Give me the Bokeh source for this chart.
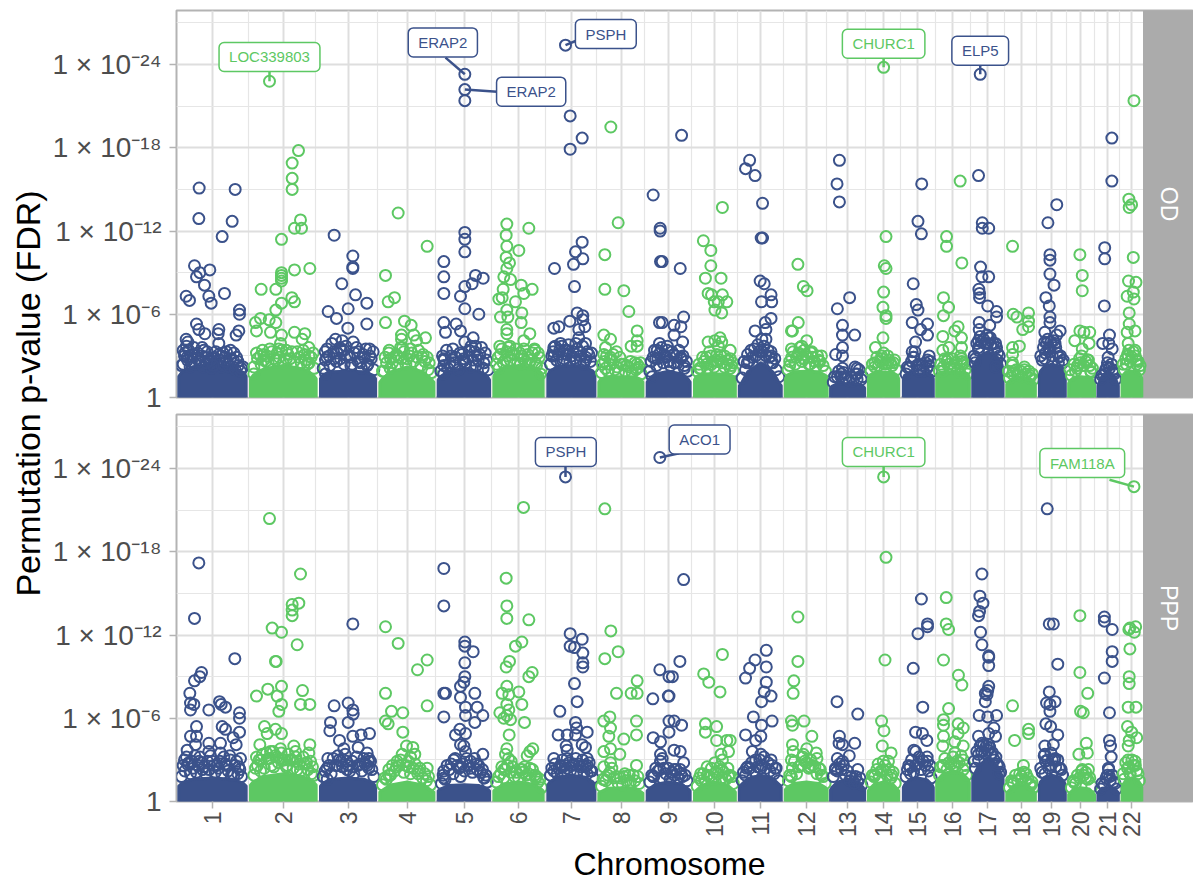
from math import pi
from bokeh.plotting import figure
from bokeh.layouts import row, column
from bokeh.models import Range1d, FixedTicker, Label
from bokeh.embed import file_html
from bokeh.resources import INLINE

NAVY = "#3B528B"
GREEN = "#5DC863"
chrom_labels = [str(i) for i in range(1, 23)]
chrom_ticks = [109,320,515,692,863,1027,1184,1334,1476,1612,1747,1881,2001,2108,2209,2311,2414,2512,2602,2688,2767,2838]
mass_start = [7,222,432,610,785,952,1114,1267,1412,1552,1684,1819,1952,2063,2166,2264,2370,2470,2566,2652,2738,2809]
mass_end = [209,419,597,772,939,1100,1255,1399,1539,1672,1807,1942,2052,2152,2254,2360,2459,2554,2642,2728,2798,2867]
od_mass_edge = [1.8,1.6,1.6,1.3,1.5,1.8,1.9,1.3,1.3,1.5,1.0,1.6,0.8,1.6,1.6,1.7,2.4,1.1,1.9,1.2,1.0,1.6]
od_mass_peak = [2.4,2.3,1.9,2.2,2.1,2.3,2.3,1.5,1.9,1.7,2.5,1.9,1.0,1.8,1.7,1.8,3.3,1.4,2.4,1.5,1.9,1.9]
ppp_mass_edge = [1.3,1.4,1.3,0.8,0.9,0.9,1.4,0.7,0.9,0.8,1.2,1.0,1.0,0.9,1.2,1.6,1.9,0.7,1.4,0.6,0.7,1.2]
ppp_mass_peak = [1.7,2.0,1.7,1.4,1.2,1.4,1.9,1.0,1.4,1.4,1.9,1.4,1.6,1.4,1.7,2.2,3.1,1.2,1.9,1.0,1.0,1.7]

od_points = [
 [(68,15.1),(176,15.0),(67,12.9),(167,12.7),(137,11.6),(54,9.5),(100,9.2),(70,9.0),(60,8.7),(84,8.1),(144,7.5),(97,7.3),(29,7.3),(39,7.0),(104,6.8),(189,6.3),(189,6.0),(60,5.3),(127,4.9),(67,4.9),(85,4.6),(187,4.8),(179,4.5),(29,4.2),(34,4.0),(125,4.6),(127,3.9),(77,3.6),(162,3.4),(82,3.4),(37,3.4),(127,3.1),(32,2.9),(102,2.7),(162,2.8),(62,2.8),(20,2.4),(45,2.6),(90,2.5),(145,2.6),(185,2.3),(195,2.1),(110,2.3),(25,3.2),(140,3.2)],
 [(279,22.8),(366,17.8),(347,16.9),(347,15.8),(347,15.0),(372,12.8),(354,12.2),(375,12.2),(315,11.4),(315,9.0),(315,8.8),(315,8.6),(315,8.4),(354,9.2),(400,9.3),(254,7.8),(298,7.8),(346,7.2),(354,6.9),(315,6.8),(298,6.3),(252,5.7),(237,5.4),(278,5.6),(298,5.4),(240,4.8),(282,4.7),(354,4.7),(385,4.6),(315,4.5),(377,4.2),(312,3.9),(397,3.6),(307,3.5),(252,3.0),(272,3.0),(397,3.0),(330,2.8),(292,2.8),(262,2.7),(387,2.7),(232,1.7)],
 [(473,11.7),(529,10.2),(529,9.3),(529,9.4),(496,8.2),(537,7.4),(571,6.8),(515,6.4),(455,6.2),(480,5.7),(571,5.3),(514,5.0),(477,4.2),(497,4.1),(530,4.0),(452,3.5),(579,3.5),(502,3.4),(547,3.3),(447,2.7),(472,2.8),(527,2.4),(572,2.3),(447,1.7),(552,2.5),(492,2.8)],
 [(665,13.3),(752,10.9),(627,8.8),(654,7.2),(635,6.9),(627,5.4),(684,5.5),(704,5.2),(675,4.5),(675,4.2),(712,4.5),(747,4.3),(720,4.1),(672,3.6),(702,3.5),(637,3.2),(682,3.3),(752,2.9),(737,2.9),(642,2.8),(622,1.9),(667,2.9)],
 [(865,23.3),(865,22.2),(865,21.4),(865,11.9),(865,11.4),(865,10.5),(802,9.8),(802,8.7),(897,8.8),(920,8.6),(887,8.2),(865,8.0),(802,7.5),(852,7.3),(865,6.4),(907,6.0),(802,5.4),(839,5.3),(807,4.7),(852,4.8),(890,4.3),(865,4.0),(897,3.7),(829,3.5),(902,3.0),(802,2.8),(862,2.8),(802,2.3),(922,2.5),(832,2.5),(882,2.2),(802,1.7)],
 [(991,12.5),(989,11.7),(1057,12.2),(991,10.9),(1027,10.6),(989,10.1),(999,9.7),(991,9.3),(982,8.7),(1002,8.5),(1034,8.1),(1067,7.8),(980,7.8),(1042,7.5),(977,7.2),(967,7.1),(1017,6.9),(991,6.3),(1036,6.1),(972,5.8),(994,5.8),(1034,5.4),(991,4.9),(991,4.6),(1060,4.6),(1042,4.1),(970,3.7),(1000,3.7),(1042,3.5),(1074,3.5),(992,3.0),(1077,2.5),(1032,2.4),(1092,1.7),(967,2.1)],
 [(1167,25.4),(1181,20.3),(1217,18.7),(1181,17.9),(1217,11.2),(1197,10.5),(1219,10.0),(1191,9.6),(1134,9.3),(1194,8.0),(1202,6.1),(1219,5.9),(1180,5.5),(1219,5.6),(1147,5.1),(1132,5.0),(1225,5.1),(1207,4.9),(1207,4.3),(1152,3.9),(1227,3.9),(1132,3.6),(1172,3.4),(1202,3.5),(1237,3.1),(1132,3.0),(1162,2.8),(1192,2.8),(1227,2.7)],
 [(1303,19.5),(1325,12.6),(1285,10.3),(1285,7.8),(1342,7.7),(1357,6.2),(1282,4.5),(1302,4.2),(1382,4.8),(1382,4.1),(1364,3.7),(1382,3.7),(1287,3.6),(1320,3.3),(1282,3.1),(1302,2.9),(1342,2.4),(1382,2.4),(1382,2.1),(1287,2.1),(1322,2.2)],
 [(1430,14.6),(1451,12.2),(1451,12.0),(1452,9.8),(1449,5.4),(1449,3.9),(1442,3.4),(1437,2.8),(1472,3.4),(1427,1.5),(1514,18.9),(1510,9.3),(1457,9.8),(1520,5.8),(1492,5.2),(1512,5.1),(1492,4.5),(1457,5.4),(1517,4.0),(1472,3.7),(1512,2.9),(1492,2.5),(1462,3.1),(1522,2.1)],
 [(1634,13.7),(1578,11.3),(1600,10.6),(1600,9.5),(1630,8.6),(1584,8.6),(1592,7.5),(1602,7.4),(1634,7.4),(1647,6.9),(1622,6.9),(1610,6.9),(1612,6.3),(1632,6.1),(1592,4.0),(1627,4.3),(1612,4.1),(1632,4.0),(1622,3.7),(1657,3.4),(1587,2.9),(1632,2.5),(1657,2.8),(1567,2.1),(1657,2.1),(1602,2.4)],
 [(1714,17.1),(1702,16.5),(1730,16.0),(1752,14.0),(1748,11.5),(1752,11.5),(1745,8.4),(1757,8.2),(1777,7.4),(1749,6.9),(1779,6.9),(1777,5.7),(1760,5.4),(1762,4.9),(1730,4.8),(1750,4.2),(1762,4.2),(1777,3.3),(1747,3.4),(1707,2.5),(1747,2.8),(1777,2.5)],
 [(1856,9.6),(1872,8.0),(1883,7.7),(1857,5.4),(1837,4.8),(1840,4.8),(1882,4.1),(1867,3.7),(1837,3.5),(1897,3.3),(1857,3.1),(1917,2.7),(1832,2.3),(1892,2.4),(1872,2.8)],
 [(1978,17.1),(1971,15.4),(1978,14.1),(2008,7.2),(1972,6.4),(1987,5.2),(1987,4.5),(2023,4.5),(1987,3.6),(1967,3.1),(1987,3.0),(1987,2.1),(2024,2.2),(2030,2.1),(1982,1.5),(2030,1.3)],
 [(2108,23.8),(2115,11.6),(2110,9.5),(2115,9.3),(2108,7.6),(2106,6.5),(2115,5.9),(2115,5.7),(2106,4.3),(2084,3.6),(2102,3.0),(2137,2.5),(2082,2.2),(2117,2.5)],
 [(2220,15.4),(2209,12.7),(2219,11.8),(2195,8.2),(2204,6.7),(2209,6.3),(2192,5.4),(2237,5.3),(2217,4.9),(2237,4.5),(2202,4.0),(2192,3.3),(2197,2.9),(2237,2.7),(2242,2.3),(2182,2.1),(2212,1.9)],
 [(2333,15.6),(2293,11.6),(2293,10.9),(2338,9.7),(2284,7.2),(2299,6.5),(2284,5.9),(2327,5.1),(2317,4.8),(2337,4.3),(2282,4.4),(2337,3.6),(2300,3.6),(2282,3.4),(2297,2.8),(2337,2.8),(2337,2.4),(2282,1.9),(2332,1.8)],
 [(2392,23.3),(2387,16.0),(2398,12.6),(2398,12.2),(2417,12.2),(2393,9.4),(2397,8.7),(2417,8.7),(2388,7.8),(2390,7.5),(2390,7.2),(2414,6.6),(2440,6.2),(2440,5.8),(2389,5.4),(2420,5.2),(2389,4.9),(2417,4.3),(2437,3.9),(2387,4.1),(2387,3.4),(2442,2.7),(2437,2.2),(2377,2.5)],
 [(2487,10.9),(2489,6.0),(2500,5.8),(2534,6.1),(2534,5.5),(2517,4.9),(2534,5.1),(2507,3.7),(2487,3.6),(2487,3.1),(2487,2.5),(2522,2.2),(2487,1.7),(2537,1.6)],
 [(2617,13.9),(2591,12.6),(2597,10.3),(2597,9.9),(2597,8.9),(2609,8.1),(2585,7.2),(2595,6.6),(2597,5.8),(2597,5.4),(2627,4.8),(2582,4.7),(2617,4.5),(2582,4.0),(2612,3.9),(2597,3.5),(2582,2.8),(2622,2.5)],
 [(2685,10.3),(2692,8.8),(2692,7.7),(2685,4.8),(2714,4.7),(2697,4.7),(2670,4.1),(2712,3.9),(2692,3.5),(2710,2.7),(2687,2.5),(2677,2.1),(2717,1.9)],
 [(2779,18.7),(2779,15.6),(2758,10.8),(2758,10.0),(2757,6.6),(2772,4.5),(2752,3.9),(2770,3.9),(2780,3.5),(2765,2.2),(2782,1.8)],
 [(2844,21.4),(2829,14.3),(2837,13.9),(2830,13.7),(2842,10.1),(2828,8.4),(2850,8.3),(2842,7.6),(2824,7.3),(2844,7.1),(2830,6.1),(2830,5.3),(2824,4.7),(2847,4.8),(2827,3.9),(2847,3.4),(2827,3.0),(2852,2.7),(2822,2.4)],
]

od_dense = [
 [(15,2.3),(24,3.0),(33,2.7),(41,2.2),(48,3.1),(56,2.4),(64,3.2),(72,2.6),(80,2.2),(88,2.9),(96,2.6),(105,2.1),(113,2.9),(120,2.4),(129,2.7),(136,2.2),(146,2.9),(153,2.4),(160,2.2),(170,2.7),(176,2.0),(184,2.6),(192,1.9),(200,2.2),(20,3.4),(30,3.7),(42,3.0),(52,3.6),(68,2.6),(76,3.0),(92,3.3),(110,2.8),(118,3.3),(134,3.0),(150,3.3),(172,3.2),(180,2.9)],
 [(232,2.2),(243,2.8),(254,2.4),(262,3.1),(275,2.5),(286,3.3),(297,2.7),(308,2.9),(320,2.5),(329,3.4),(341,2.8),(352,2.6),(362,3.3),(374,2.5),(384,3.1),(393,2.4),(404,2.9),(413,2.1),(240,3.2),(258,3.4),(268,2.6),(280,3.5),(302,3.2),(316,3.4),(335,3.1),(346,3.3),(368,2.9),(380,3.4),(398,2.5),(410,3.2)],
 [(440,2.1),(451,2.9),(460,2.3),(471,3.3),(480,2.6),(490,3.6),(503,2.4),(512,3.0),(523,2.3),(534,3.2),(545,2.6),(555,2.1),(563,2.9),(574,2.4),(584,2.8),(592,2.0),(446,3.3),(458,3.0),(466,3.9),(482,3.2),(495,3.4),(508,3.7),(520,2.9),(540,3.6),(560,3.1),(568,3.5),(580,3.0),(590,3.3)],
 [(618,1.9),(630,2.5),(641,2.1),(652,2.9),(663,2.3),(675,2.8),(688,2.4),(699,3.0),(711,2.6),(722,2.9),(733,2.3),(745,2.6),(755,2.0),(765,1.8),(626,2.9),(638,3.4),(648,2.5),(660,3.1),(678,3.6),(692,2.8),(706,3.2),(726,3.4),(740,3.1),(758,2.5)],
 [(793,1.9),(803,2.7),(814,2.1),(824,3.0),(835,2.3),(846,2.0),(857,3.1),(868,2.5),(878,3.4),(889,2.7),(899,2.3),(910,3.1),(920,2.1),(930,2.7),(935,2.0),(798,3.0),(810,3.4),(820,2.5),(838,2.9),(850,3.2),(860,2.6),(875,2.9),(884,3.7),(895,3.3),(905,2.7),(915,3.6),(926,3.2)],
 [(960,2.4),(972,3.1),(980,2.5),(990,3.3),(1001,2.7),(1012,3.1),(1023,2.5),(1035,3.0),(1047,2.6),(1058,2.4),(1068,3.2),(1080,2.3),(1088,2.9),(1095,2.1),(965,2.9),(976,3.5),(986,2.7),(996,3.6),(1006,3.2),(1018,3.5),(1030,3.2),(1040,2.8),(1054,3.1),(1064,2.7),(1075,3.4),(1085,3.2)],
 [(1122,2.4),(1130,3.3),(1140,2.7),(1150,3.4),(1160,2.6),(1170,3.1),(1180,2.6),(1190,3.3),(1200,2.7),(1212,3.0),(1222,2.4),(1232,3.3),(1242,2.6),(1250,2.2),(1126,3.0),(1136,3.7),(1146,3.1),(1156,3.7),(1166,3.4),(1176,3.8),(1186,3.0),(1198,3.9),(1208,3.3),(1218,3.7),(1228,2.9),(1245,3.2)],
 [(1275,1.8),(1285,2.6),(1295,1.9),(1305,2.7),(1315,2.0),(1326,1.8),(1335,2.4),(1346,1.9),(1357,2.2),(1367,1.8),(1378,2.0),(1388,2.2),(1394,1.7),(1278,2.4),(1290,3.0),(1300,2.4),(1310,3.1),(1330,2.9),(1350,2.3),(1362,2.6),(1375,2.5),(1392,2.5)],
 [(1420,1.9),(1430,2.9),(1440,2.3),(1450,3.2),(1460,2.5),(1470,2.9),(1481,2.3),(1491,3.1),(1502,2.5),(1512,2.8),(1522,2.3),(1532,1.9),(1424,2.6),(1434,3.4),(1444,2.8),(1455,3.6),(1466,3.0),(1476,2.6),(1486,3.3),(1498,3.0),(1506,3.4),(1518,3.0),(1528,2.6)],
 [(1560,1.9),(1570,2.1),(1580,2.6),(1590,2.1),(1600,3.0),(1610,2.2),(1620,2.6),(1630,3.0),(1640,2.2),(1650,2.7),(1660,2.3),(1667,1.9),(1565,2.4),(1576,2.9),(1588,2.4),(1596,3.3),(1606,2.6),(1618,3.1),(1626,2.7),(1640,3.0),(1648,2.4),(1664,2.5)],
 [(1692,1.4),(1702,2.0),(1712,2.6),(1722,2.9),(1732,3.0),(1742,3.3),(1752,3.3),(1762,3.0),(1772,2.9),(1782,2.5),(1792,2.0),(1800,1.5),(1698,2.6),(1708,3.1),(1718,3.4),(1728,3.5),(1738,3.8),(1756,3.7),(1768,3.4),(1778,3.0),(1788,2.8)],
 [(1827,2.0),(1838,2.9),(1848,2.4),(1858,3.2),(1868,2.6),(1878,3.1),(1888,2.4),(1898,2.9),(1908,2.2),(1920,2.6),(1930,2.3),(1937,1.9),(1832,2.6),(1842,3.3),(1852,2.9),(1862,3.6),(1874,3.4),(1885,2.9),(1895,3.2),(1905,2.6),(1914,3.0),(1925,3.0)],
 [(1960,1.1),(1972,1.5),(1984,1.7),(1995,1.4),(2006,1.2),(2018,1.2),(2030,1.7),(2042,1.3),(1964,1.5),(1976,1.9),(1990,1.8),(2012,1.5),(2026,1.7),(2036,2.0),(2046,1.5)],
 [(2071,1.9),(2082,2.5),(2093,2.3),(2103,2.8),(2113,2.4),(2123,2.7),(2133,2.3),(2145,2.0),(2075,2.4),(2088,2.9),(2098,2.6),(2108,3.2),(2120,3.0),(2128,2.5),(2140,2.7)],
 [(2174,1.7),(2185,2.2),(2195,2.9),(2205,2.3),(2215,2.0),(2225,1.9),(2235,2.1),(2245,2.6),(2250,1.9),(2178,2.2),(2190,2.6),(2200,3.3),(2212,2.4),(2222,2.3),(2232,2.5),(2242,3.0)],
 [(2272,1.9),(2283,2.2),(2294,2.6),(2305,2.1),(2316,2.3),(2327,2.0),(2338,2.6),(2348,2.0),(2355,1.7),(2276,2.4),(2288,2.8),(2300,2.4),(2310,2.8),(2322,2.5),(2334,3.0),(2344,2.5)],
 [(2378,2.8),(2387,3.6),(2396,4.0),(2405,3.9),(2414,3.9),(2423,3.8),(2433,3.5),(2443,3.2),(2452,2.4),(2374,3.0),(2382,3.9),(2392,4.4),(2402,4.2),(2412,4.5),(2422,4.3),(2430,3.9),(2440,3.6),(2448,3.0)],
 [(2478,1.4),(2490,1.9),(2502,1.6),(2514,1.5),(2526,1.7),(2538,1.4),(2548,1.3),(2475,1.9),(2486,2.3),(2498,2.0),(2510,1.9),(2522,2.0),(2535,1.9),(2545,1.7)],
 [(2574,2.7),(2584,3.2),(2594,3.6),(2604,3.0),(2614,3.6),(2624,2.9),(2634,2.5),(2600,4.0),(2590,4.2),(2570,3.0),(2578,3.6),(2588,3.9),(2598,3.3),(2608,4.1),(2618,3.2),(2628,3.0),(2636,2.7)],
 [(2660,1.6),(2672,1.9),(2684,2.8),(2696,2.3),(2708,2.7),(2718,1.8),(2656,2.0),(2668,2.4),(2678,2.3),(2690,3.0),(2702,2.6),(2714,2.3),(2722,2.1)],
 [(2746,1.3),(2756,1.6),(2766,2.5),(2772,2.1),(2782,2.0),(2790,1.3),(2750,1.6),(2760,2.0),(2768,2.9),(2778,2.4),(2786,1.7)],
 [(2815,2.0),(2825,3.1),(2833,2.6),(2842,3.3),(2852,2.4),(2860,2.0),(2812,2.4),(2820,2.8),(2829,3.4),(2838,2.9),(2848,3.0),(2856,2.6),(2862,2.3)],
]

ppp_points = [
 [(67,17.2),(54,13.2),(175,10.3),(75,9.3),(70,9.0),(54,8.7),(40,7.8),(42,7.1),(52,7.0),(42,6.6),(129,7.2),(134,7.0),(147,6.8),(97,6.6),(189,6.4),(189,6.0),(60,5.4),(137,5.4),(147,5.2),(189,5.0),(42,4.7),(60,4.7),(170,4.6),(132,4.2),(97,4.2),(179,4.1),(57,4.1),(32,3.7),(97,3.6),(70,3.2),(132,3.5),(24,3.0),(192,3.1),(162,3.0),(82,2.5),(187,2.5),(122,2.6),(37,2.8),(172,1.9)],
 [(279,20.4),(372,16.4),(367,14.3),(347,14.2),(347,13.8),(347,13.4),(287,12.5),(315,12.2),(362,11.3),(297,10.1),(299,10.1),(315,8.3),(274,8.1),(378,8.0),(240,7.6),(302,7.6),(315,7.0),(372,7.0),(400,7.0),(307,6.5),(264,5.4),(297,5.2),(272,4.9),(315,4.9),(250,4.1),(400,4.1),(352,4.0),(312,3.8),(240,3.2),(282,3.6),(397,3.5),(357,3.6),(402,2.9),(252,2.2),(332,2.6),(292,2.5),(362,2.3)],
 [(529,12.8),(473,6.9),(515,7.1),(529,6.6),(530,6.3),(462,5.7),(515,5.7),(460,5.1),(579,4.9),(554,4.8),(529,4.7),(489,4.4),(545,3.9),(502,3.8),(572,3.5),(577,3.1),(454,3.1),(527,2.9),(482,2.6),(577,2.4),(512,2.3),(452,1.6)],
 [(627,12.6),(665,11.4),(752,10.2),(723,9.5),(627,7.8),(752,6.9),(645,6.5),(679,6.4),(627,5.8),(635,5.6),(679,5.0),(690,4.0),(709,3.9),(715,3.4),(677,3.4),(662,2.9),(752,2.4),(697,2.5),(637,1.9),(727,2.2),(702,2.0)],
 [(802,16.8),(802,14.1),(865,11.5),(865,11.2),(890,10.8),(865,10.0),(865,9.0),(862,8.6),(852,8.3),(802,7.8),(807,7.8),(895,7.8),(852,7.5),(867,6.8),(902,6.8),(867,6.2),(919,6.2),(802,6.1),(895,5.7),(850,5.2),(867,4.9),(837,4.8),(852,4.1),(862,4.0),(867,3.6),(919,3.4),(832,3.0),(882,2.9),(802,2.2),(852,2.5),(902,2.3),(802,1.7),(922,1.7)],
 [(1041,21.2),(989,16.1),(991,14.1),(991,13.2),(1057,13.1),(1036,11.5),(1017,11.2),(999,10.1),(989,9.7),(1067,9.3),(1057,9.0),(991,8.3),(1027,7.9),(977,7.8),(997,7.7),(991,7.0),(1036,7.0),(997,6.6),(970,6.4),(991,6.2),(982,6.0),(1002,5.9),(1044,5.7),(998,4.8),(991,3.8),(1069,3.8),(1060,3.6),(1052,3.3),(987,3.4),(1004,2.9),(1060,2.4),(1037,2.3),(1077,1.7),(982,2.3)],
 [(1167,23.4),(1181,12.1),(1217,11.7),(1181,11.2),(1194,11.1),(1219,10.7),(1219,10.0),(1219,9.7),(1194,8.5),(1202,7.2),(1150,6.5),(1197,5.7),(1200,5.3),(1145,4.8),(1172,4.8),(1197,4.8),(1232,5.0),(1217,4.1),(1169,4.0),(1227,3.9),(1172,3.7),(1232,3.1),(1132,3.1),(1172,3.1),(1157,2.5),(1217,2.6),(1232,2.0)],
 [(1285,21.1),(1303,12.3),(1325,10.8),(1285,10.3),(1382,8.7),(1320,7.8),(1364,7.8),(1382,7.8),(1300,6.1),(1282,5.8),(1380,5.8),(1302,5.3),(1297,4.7),(1380,4.8),(1342,4.5),(1302,3.8),(1282,3.6),(1330,3.4),(1302,2.8),(1282,2.5),(1380,2.6),(1342,1.8),(1282,1.6)],
 [(1450,24.8),(1450,9.5),(1477,9.0),(1429,7.4),(1475,7.6),(1430,4.6),(1452,4.3),(1452,3.4),(1452,2.9),(1477,5.0),(1430,1.8),(1477,5.8),(1520,16.0),(1509,10.1),(1487,9.0),(1477,7.6),(1492,5.8),(1514,5.5),(1492,3.7),(1510,3.6),(1520,2.8),(1457,3.1),(1492,2.3),(1512,2.0)],
 [(1634,10.6),(1579,9.2),(1594,8.6),(1627,7.9),(1584,5.6),(1617,5.4),(1584,5.0),(1617,4.4),(1647,4.4),(1657,4.4),(1652,3.6),(1630,3.4),(1634,3.0),(1612,2.8),(1589,2.5),(1570,2.0),(1652,1.8),(1632,2.3)],
 [(1763,10.9),(1730,10.2),(1714,9.6),(1763,9.7),(1702,8.9),(1763,8.6),(1757,7.9),(1777,7.6),(1749,7.2),(1725,6.1),(1780,5.8),(1749,5.5),(1702,4.8),(1747,4.7),(1732,4.4),(1722,3.6),(1747,3.4),(1777,3.0),(1705,2.4),(1789,2.4),(1747,2.4)],
 [(1856,13.3),(1856,10.1),(1844,8.7),(1842,7.8),(1874,5.8),(1837,5.8),(1840,5.5),(1897,4.7),(1840,4.1),(1882,3.8),(1842,3.6),(1910,3.5),(1872,3.4),(1837,3.0),(1912,3.1),(1922,2.3),(1892,2.5),(1837,1.8)],
 [(1971,7.2),(2032,6.3),(1978,4.7),(1977,4.2),(1987,4.1),(2023,4.2),(2007,3.3),(1972,3.1),(1987,2.9),(1967,2.4),(2032,2.3),(2022,1.3)],
 [(2108,23.4),(2115,17.6),(2112,10.2),(2102,5.8),(2109,5.1),(2104,4.0),(2130,3.5),(2122,2.9),(2107,2.9),(2092,2.7),(2132,1.9),(2080,1.8)],
 [(2219,14.6),(2237,12.8),(2237,12.6),(2209,12.1),(2195,9.6),(2223,6.8),(2202,5.0),(2222,4.9),(2235,4.4),(2197,3.7),(2202,3.6),(2182,2.6),(2237,2.9),(2202,2.6),(2187,2.0)],
 [(2292,14.7),(2292,12.8),(2299,12.4),(2284,10.2),(2328,9.1),(2338,8.4),(2299,6.7),(2284,5.9),(2284,5.5),(2327,5.6),(2342,5.3),(2284,4.7),(2327,4.9),(2317,4.3),(2342,4.0),(2282,4.0),(2317,3.5),(2342,3.0),(2282,2.6),(2317,2.6)],
 [(2397,16.4),(2391,14.8),(2400,14.3),(2390,13.7),(2387,13.4),(2393,12.2),(2397,11.3),(2417,10.5),(2417,10.4),(2417,9.8),(2417,8.3),(2414,8.0),(2407,7.8),(2412,7.7),(2407,7.2),(2389,6.2),(2414,6.1),(2440,6.2),(2432,5.3),(2417,4.9),(2387,4.7),(2437,4.7),(2397,4.2),(2417,4.1),(2387,3.0),(2447,2.0),(2442,2.6)],
 [(2487,6.9),(2534,5.2),(2534,4.9),(2493,4.4),(2519,2.6),(2527,2.0),(2487,1.4),(2542,1.2),(2512,1.6)],
 [(2589,21.1),(2595,12.8),(2607,12.8),(2595,7.9),(2587,7.1),(2612,7.2),(2597,7.0),(2597,6.5),(2585,5.6),(2599,5.4),(2620,4.8),(2620,9.9),(2582,4.0),(2607,4.1),(2582,3.4),(2612,3.1),(2582,2.0),(2627,2.4),(2597,2.6)],
 [(2685,13.4),(2685,9.3),(2708,7.8),(2687,6.5),(2695,6.4),(2704,4.2),(2682,3.4),(2707,3.5),(2692,2.3),(2710,2.3),(2667,1.4),(2702,1.7)],
 [(2757,13.3),(2757,13.0),(2780,12.4),(2780,10.8),(2780,10.1),(2757,8.9),(2772,6.4),(2772,4.4),(2775,4.0),(2777,3.2),(2769,2.4),(2772,1.8)],
 [(2844,22.7),(2832,12.5),(2849,12.6),(2829,12.4),(2845,12.2),(2832,11.0),(2830,9.0),(2830,8.5),(2827,6.8),(2850,6.8),(2825,5.4),(2837,5.0),(2852,4.6),(2830,4.4),(2827,4.0),(2827,3.0),(2847,2.9),(2832,2.0)],
]

ppp_dense = [
 [(15,1.8),(25,2.2),(33,2.7),(42,2.0),(50,2.4),(60,2.1),(68,2.9),(78,2.3),(88,2.0),(98,2.3),(107,2.9),(116,2.1),(126,2.4),(136,2.0),(146,2.7),(155,2.2),(165,1.9),(175,2.6),(184,2.0),(195,1.8),(20,2.6),(30,3.2),(46,2.9),(55,3.3),(65,2.6),(75,2.8),(93,2.9),(102,3.3),(112,2.6),(130,2.9),(142,3.2),(150,2.6),(160,3.3),(180,2.9),(190,2.3)],
 [(232,1.9),(243,2.6),(254,3.0),(263,2.4),(275,3.1),(285,2.6),(296,3.3),(306,2.8),(318,3.0),(329,2.5),(340,3.0),(350,2.4),(362,2.9),(372,2.2),(384,2.7),(394,2.3),(405,2.0),(413,1.9),(237,2.4),(248,3.0),(258,3.4),(270,3.5),(280,3.1),(290,3.6),(302,3.2),(314,3.5),(324,3.0),(335,3.4),(346,3.0),(358,3.2),(368,2.7),(380,3.2),(390,2.8),(408,2.5)],
 [(440,1.8),(452,2.4),(464,2.0),(476,2.6),(488,3.0),(498,2.5),(510,2.9),(520,2.2),(532,2.0),(544,2.6),(556,2.2),(566,2.7),(576,2.9),(586,2.3),(592,1.8),(446,2.2),(458,2.6),(470,3.1),(484,3.3),(494,2.9),(506,3.4),(516,2.6),(528,2.5),(540,3.2),(552,2.7),(562,3.1),(572,2.6),(582,2.9)],
 [(618,1.2),(630,1.6),(642,1.9),(654,2.2),(668,2.6),(682,2.1),(696,2.9),(710,2.4),(724,2.0),(738,1.7),(750,1.5),(762,1.2),(625,1.7),(637,2.3),(648,2.6),(660,2.5),(672,3.0),(688,2.6),(702,3.2),(716,2.7),(730,2.4),(745,2.0),(756,1.8)],
 [(795,1.3),(806,1.6),(818,2.3),(830,2.0),(842,2.6),(852,1.8),(864,2.2),(876,2.6),(888,2.1),(900,2.7),(912,2.1),(924,1.7),(932,1.4),(800,1.9),(812,2.6),(824,2.7),(836,3.1),(848,2.4),(858,2.7),(870,3.1),(882,2.4),(894,3.1),(906,2.6),(918,2.3),(928,1.9)],
 [(960,1.4),(972,2.0),(982,1.7),(993,2.6),(1003,2.1),(1014,1.8),(1026,1.7),(1038,2.1),(1050,1.9),(1062,1.5),(1075,1.9),(1085,1.4),(1095,1.0),(966,1.8),(976,2.5),(986,2.3),(996,3.1),(1008,2.5),(1020,2.1),(1032,2.3),(1044,2.5),(1056,2.0),(1068,2.3),(1080,1.8),(1090,1.6)],
 [(1122,1.9),(1132,2.2),(1142,2.0),(1152,2.6),(1162,2.1),(1172,2.4),(1182,2.2),(1192,2.7),(1202,2.2),(1212,2.5),(1222,2.1),(1232,2.6),(1242,2.2),(1250,1.7),(1126,2.4),(1136,2.7),(1148,2.4),(1158,3.0),(1166,2.6),(1178,2.8),(1188,2.6),(1198,3.1),(1208,2.7),(1218,3.0),(1228,2.5),(1238,2.8),(1246,2.2)],
 [(1275,1.1),(1288,1.5),(1300,2.1),(1312,1.7),(1325,1.3),(1338,1.2),(1350,1.5),(1362,1.4),(1375,1.5),(1388,1.3),(1280,1.6),(1294,1.9),(1306,2.4),(1320,1.8),(1332,1.7),(1345,2.0),(1358,1.9),(1370,1.9),(1384,1.8)],
 [(1420,1.4),(1432,1.8),(1444,2.2),(1456,1.7),(1468,2.0),(1480,1.6),(1492,1.9),(1504,1.7),(1516,1.8),(1530,1.5),(1426,1.9),(1438,2.4),(1450,2.3),(1462,2.4),(1474,2.4),(1486,2.1),(1498,2.3),(1510,2.3),(1524,1.9)],
 [(1560,1.1),(1572,1.5),(1584,1.4),(1596,1.8),(1608,1.6),(1620,2.0),(1632,1.7),(1644,1.6),(1655,1.9),(1666,1.3),(1566,1.7),(1578,2.0),(1590,1.9),(1602,2.4),(1614,2.1),(1626,2.5),(1638,2.1),(1650,2.4),(1662,1.8)],
 [(1692,1.5),(1702,1.9),(1714,2.4),(1726,2.2),(1738,2.5),(1750,2.6),(1762,2.4),(1774,2.2),(1786,2.0),(1800,1.5),(1696,2.1),(1708,2.5),(1720,2.8),(1732,3.0),(1744,3.0),(1756,3.2),(1768,2.8),(1780,2.6),(1792,2.4)],
 [(1828,1.5),(1840,2.4),(1852,2.0),(1864,2.6),(1876,2.9),(1888,2.4),(1900,2.6),(1912,2.0),(1925,1.9),(1936,1.3),(1832,1.9),(1846,2.9),(1858,2.5),(1870,3.2),(1882,2.8),(1894,3.0),(1906,2.5),(1918,2.4),(1930,1.8)],
 [(1960,1.8),(1972,2.2),(1984,2.3),(1996,1.9),(2008,1.5),(2020,1.4),(2032,1.4),(2044,1.2),(1966,2.3),(1978,2.7),(1990,2.6),(2002,2.2),(2014,1.8),(2026,1.8),(2038,1.7)],
 [(2071,1.4),(2082,1.9),(2094,1.7),(2106,2.3),(2118,1.9),(2130,1.7),(2142,1.3),(2075,1.9),(2088,2.3),(2100,2.2),(2112,2.6),(2124,2.3),(2136,2.1)],
 [(2174,1.8),(2186,2.5),(2196,2.1),(2208,2.7),(2218,2.3),(2230,2.6),(2240,2.2),(2248,1.7),(2178,2.3),(2190,3.0),(2202,2.6),(2212,3.2),(2224,2.9),(2236,3.2),(2244,2.6)],
 [(2272,1.9),(2283,2.6),(2294,2.3),(2306,2.7),(2318,2.4),(2330,2.8),(2342,2.3),(2352,1.9),(2276,2.5),(2288,3.1),(2300,2.8),(2312,3.2),(2324,2.9),(2336,3.3),(2348,2.6)],
 [(2378,2.4),(2387,3.4),(2396,3.6),(2405,3.5),(2414,3.7),(2423,3.4),(2433,3.0),(2443,2.7),(2452,2.1),(2374,2.9),(2382,3.6),(2392,4.0),(2402,4.1),(2410,4.0),(2420,3.9),(2428,3.5),(2438,3.2),(2448,2.5)],
 [(2478,1.0),(2490,1.3),(2502,1.5),(2514,1.8),(2526,1.5),(2538,1.2),(2548,1.0),(2484,1.5),(2496,1.9),(2508,2.0),(2520,2.1),(2532,1.7),(2544,1.4)],
 [(2574,2.1),(2584,2.9),(2594,2.4),(2604,3.0),(2614,2.5),(2624,2.4),(2634,1.9),(2570,2.4),(2580,3.3),(2590,3.0),(2600,3.5),(2610,3.0),(2620,3.0),(2630,2.3)],
 [(2660,1.0),(2672,1.3),(2684,1.7),(2696,1.9),(2708,1.6),(2720,1.1),(2666,1.5),(2678,1.9),(2690,2.2),(2702,2.1),(2714,1.7)],
 [(2746,0.9),(2756,1.2),(2766,1.9),(2774,1.5),(2784,1.4),(2792,0.9),(2750,1.3),(2762,1.7),(2770,2.3),(2780,1.9),(2788,1.3)],
 [(2815,1.6),(2825,2.4),(2833,2.0),(2842,2.6),(2852,2.2),(2860,1.5),(2812,2.0),(2820,2.8),(2829,2.5),(2838,3.0),(2848,2.6),(2856,2.0)],
]

od_genes = [
 ("LOC339803",GREEN,279,24.55,279,22.8,279,24.0),
 ("ERAP2",NAVY,799,25.6,865,23.3,807,24.5),
 ("ERAP2",NAVY,1064,22.05,865,22.2,962,22.05),
 ("PSPH",NAVY,1288,26.2,1167,25.4,1197,25.7),
 ("CHURC1",GREEN,2108,25.5,2108,23.8,2108,24.9),
 ("ELP5",NAVY,2392,25.0,2392,23.3,2392,24.4),
]
ppp_genes = [
 ("PSPH",NAVY,1168,25.2,1167,23.4,1167,24.5),
 ("ACO1",NAVY,1567,26.1,1450,24.8,1507,25.1),
 ("CHURC1",GREEN,2108,25.2,2108,23.4,2108,24.5),
 ("FAM118A",GREEN,2692,24.4,2844,22.7,2772,23.2),
]

y_ticks = [0,6,12,18,24]
y_minor = [3,9,15,21,27]
y_labels = {0:"1",6:"1 × 10⁻⁶",12:"1 × 10⁻¹²",18:"1 × 10⁻¹⁸",24:"1 × 10⁻²⁴"}
X_MAX = 2901
Y_MAX = 27.9
STRIP_MB = 150
FONT = "Liberation Sans"
STRIP_COLOR = "#ABABAB"

# readings on the right half of the chart were taken at a slightly different scale
def gx(x):
    return x if x < 1452 else 1452 + (x - 1452) * 1.0204

ticks = [gx(v) for v in chrom_ticks]
chrom_minor = [(a+b)/2 for a,b in zip(ticks[:-1],ticks[1:])]

def panel(strip_text, points, dense, edges, peaks, genes, top, bottom, show_x):
    p = figure(frame_width=1017, frame_height=387, min_border_left=128, min_border_right=0,
               min_border_top=top, min_border_bottom=bottom,
               x_range=Range1d(0,X_MAX+STRIP_MB), y_range=Range1d(0,Y_MAX),
               output_backend="svg", toolbar_location=None, background_fill_color="white",
               border_fill_color="white")
    p.outline_line_color="#B3B3B3"; p.outline_line_width=2
    for g,tk,mn in ((p.xgrid[0],ticks,chrom_minor),(p.ygrid[0],y_ticks,y_minor)):
        g.ticker=FixedTicker(ticks=tk,minor_ticks=mn)
        g.grid_line_color="#DEDEDE"; g.grid_line_width=2
        g.minor_grid_line_color="#E6E6E6"; g.minor_grid_line_width=1.2
    ya=p.yaxis[0]
    ya.ticker=FixedTicker(ticks=y_ticks)
    ya.major_label_overrides=y_labels
    ya.major_label_text_font=FONT; ya.major_label_text_font_size="28px"; ya.major_label_text_color="#4D4D4D"
    ya.major_tick_line_color="#B3B3B3"; ya.major_tick_line_width=1.5; ya.major_tick_out=7; ya.major_tick_in=0
    ya.minor_tick_line_color=None; ya.axis_line_color=None; ya.major_label_standoff=8
    xa=p.xaxis[0]
    xa.ticker=FixedTicker(ticks=ticks)
    xa.major_label_overrides=dict(zip(ticks,chrom_labels))
    xa.major_label_orientation=pi/2
    xa.major_label_text_font=FONT; xa.major_label_text_font_size="23px"; xa.major_label_text_color="#4D4D4D"
    xa.major_tick_line_color="#B3B3B3"; xa.major_tick_line_width=1.5; xa.major_tick_out=7; xa.major_tick_in=0
    xa.minor_tick_line_color=None; xa.axis_line_color=None; xa.major_label_standoff=3
    xa.visible=show_x
    p.quad(left=[X_MAX],right=[X_MAX+STRIP_MB],bottom=[0],top=[Y_MAX],fill_color=STRIP_COLOR,line_color=STRIP_COLOR)
    for i,pts in enumerate(points):
        c = NAVY if i%2==0 else GREEN
        a,b=gx(mass_start[i]),gx(mass_end[i]); w=b-a; mid=ticks[i]
        e,k=edges[i],peaks[i]
        xs=[a,a,a+w*0.04,a+w*0.2,mid,b-w*0.2,b-w*0.04,b,b]
        ys=[0,e*0.85,e,(e+k)/2+0.1,k,(e+k)/2+0.1,e,e*0.85,0]
        p.patch(xs,ys,fill_color=c,line_color=c,line_width=3,line_join="round")
        allp=dense[i]+pts
        p.scatter([gx(q[0]) for q in allp],[q[1] for q in allp],marker="circle",size=11,
                  fill_color=None,line_color=c,line_width=2)
    for name,c,lx,ly,px,py,ex,ey in genes:
        p.segment([gx(px)],[py],[gx(ex)],[ey],line_color=c,line_width=2.5)
        p.add_layout(Label(x=gx(lx),y=ly,text=name,text_align="center",text_baseline="middle",
                           text_color=c,text_font=FONT,text_font_size="15px",
                           background_fill_color="white",border_line_color=c,border_line_width=1.5,
                           padding=(10,6),border_radius=5))
    p.add_layout(Label(x=X_MAX+STRIP_MB/2,y=Y_MAX/2,text=strip_text,angle=-pi/2,text_align="center",
                       text_baseline="middle",text_color="white",text_font=FONT,text_font_size="23px"))
    return p

def text_box(width, height, x, y, text, angle, size):
    f=figure(width=width,height=height,x_range=Range1d(0,width),y_range=Range1d(0,height),min_border=0,
             output_backend="svg",toolbar_location=None,border_fill_color="white",background_fill_color="white")
    f.outline_line_color=None; f.axis.visible=False; f.grid.visible=False
    f.add_layout(Label(x=x,y=y,text=text,angle=angle,text_align="center",text_baseline="middle",
                       text_color="black",text_font=FONT,text_font_size=size))
    return f

p1=panel("OD",od_points,od_dense,od_mass_edge,od_mass_peak,od_genes,10,16,False)
p2=panel("PPP",ppp_points,ppp_dense,ppp_mass_edge,ppp_mass_peak,ppp_genes,1,38,True)
ylab=text_box(48,881,27,488,"Permutation p-value (FDR)",pi/2,"34px")
xlab=text_box(1145,42,555,19,"Chromosome",0,"32px")

layout=row(ylab,column(p1,p2,xlab,spacing=0),spacing=0)
open("out.html","w").write(file_html(layout,INLINE))
